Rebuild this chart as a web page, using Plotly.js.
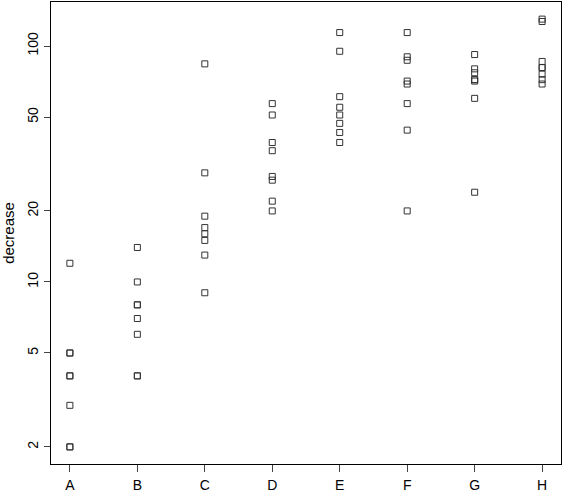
<!DOCTYPE html>
<html>
<head>
<meta charset="utf-8">
<script src="https://cdn.plot.ly/plotly-3.0.1.min.js"></script>
<style>html,body{margin:0;padding:0;background:#fff;}#chart{width:564px;height:492px;}</style>
</head>
<body>
<div id="chart"></div>
<script>
const treatments = ["A","B","C","D","E","F","G","H"];
const decreaseA = [2, 2, 5, 4, 5, 12, 4, 3];
const decreaseB = [8, 6, 4, 10, 7, 4, 8, 14];
const decreaseC = [15, 84, 16, 9, 17, 29, 13, 19];
const decreaseD = [57, 36, 22, 51, 28, 27, 20, 39];
const decreaseE = [95, 51, 39, 114, 43, 47, 61, 55];
const decreaseF = [90, 69, 87, 20, 71, 44, 57, 114];
const decreaseG = [92, 71, 72, 24, 60, 77, 72, 80];
const decreaseH = [69, 127, 72, 130, 81, 76, 81, 86];
const yTickVals = [2, 5, 10, 20, 50, 100];
const yTickText = ["2", "5", "10", "20", "50", "100"];

const groups = [decreaseA, decreaseB, decreaseC, decreaseD, decreaseE, decreaseF, decreaseG, decreaseH];
const xs = [], ys = [];
groups.forEach((g, i) => g.forEach(v => { xs.push(treatments[i]); ys.push(v); }));

const allVals = ys.map(v => Math.log10(v));
const lo = Math.min(...allVals), hi = Math.max(...allVals);
const pad = (hi - lo) * 0.04;

const font = {family: "Liberation Sans, Arial, Helvetica, sans-serif", color: "#000"};

Plotly.newPlot("chart", [{
  type: "scatter",
  mode: "markers",
  x: xs,
  y: ys,
  marker: {symbol: "square-open", size: 6, color: "#333", line: {width: 1, color: "#333"}},
  hoverinfo: "x+y"
}], {
  width: 564,
  height: 492,
  margin: {l: 51, r: 3, t: 1.5, b: 28, pad: 0},
  paper_bgcolor: "#fff",
  plot_bgcolor: "#fff",
  showlegend: false,
  xaxis: {
    type: "category",
    categoryorder: "array",
    categoryarray: treatments,
    range: [-0.28, 7.28],
    showgrid: false,
    zeroline: false,
    showline: true,
    mirror: true,
    linecolor: "#000",
    linewidth: 1,
    ticks: "outside",
    ticklen: 7,
    tickcolor: "#444",
    tickwidth: 1,
    tickfont: Object.assign({size: 14}, font),
    ticklabelstandoff: 1
  },
  yaxis: {
    type: "log",
    range: [lo - pad, hi + pad],
    tickvals: yTickVals,
    ticktext: yTickText,
    showgrid: false,
    zeroline: false,
    showline: true,
    mirror: true,
    linecolor: "#000",
    linewidth: 1,
    ticks: "outside",
    ticklen: 6,
    tickcolor: "#444",
    tickwidth: 1,
    tickangle: -90,
    tickfont: Object.assign({size: 14}, font),
    title: {text: "decrease", font: Object.assign({size: 15}, font), standoff: 8}
  }
}, {staticPlot: true});
</script>
</body>
</html>
